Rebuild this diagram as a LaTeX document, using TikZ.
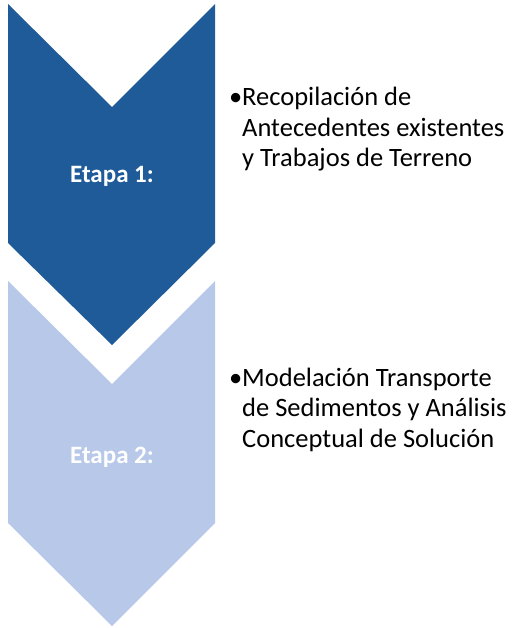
\documentclass[tikz,border=0pt]{standalone}
\usepackage{fontspec}
\setmainfont{Carlito}
\usepackage{tikz}
\definecolor{etapaoscuro}{RGB}{31,91,153}
\definecolor{etapaclaro}{RGB}{183,200,232}

\begin{document}
\begin{tikzpicture}[x=1pt,y=1pt]
\tikzstyle{every node}+=[inner sep=0pt]
\tikzstyle{etapa}=[anchor=base,font=\fontsize{25}{30}\selectfont\bfseries,text=white]
\tikzstyle{detalle}=[anchor=base west,align=left,font=\fontsize{26.5}{30.5}\selectfont]
\useasboundingbox (0,0) rectangle (512,-628);
\fill [etapaoscuro] (8,-4) -- (112,-107) -- (215,-4) -- (215,-243) -- (112,-345) -- (8,-243) -- cycle;
\node [etapa] (etapa1) at (112,-183) {Etapa 1:};
\node [detalle] (detalle1) at (229,-167) {\makebox[13pt][l]{•}Recopilación de\\\hspace*{13pt}Antecedentes existentes\\\hspace*{13pt}y Trabajos de Terreno};
\fill [etapaclaro] (8,-281) -- (112,-384) -- (215,-281) -- (215,-523) -- (112,-626) -- (8,-523) -- cycle;
\node [etapa] (etapa2) at (112,-463) {Etapa 2:};
\node [detalle] (detalle2) at (229,-447) {\makebox[13pt][l]{•}Modelación Transporte\\\hspace*{13pt}de Sedimentos y Análisis\\\hspace*{13pt}Conceptual de Solución};
\end{tikzpicture}
\end{document}
